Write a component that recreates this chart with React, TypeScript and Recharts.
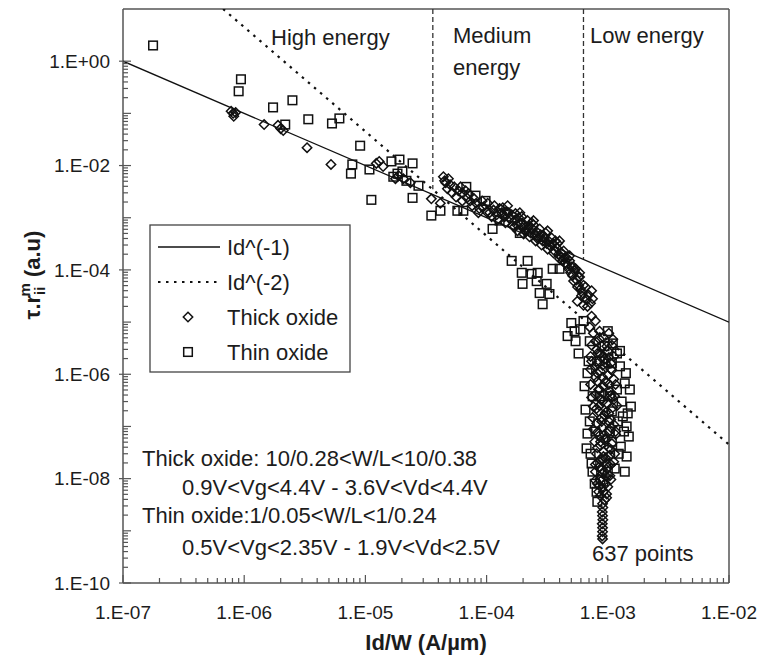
import { ScatterChart, Scatter, XAxis, YAxis, ReferenceLine } from "recharts";

const FONT = "'Liberation Sans', Arial, sans-serif";
const INK = "#1c1c1c";

// axis ticks
const xMajorTicks = [1e-7, 1e-6, 1e-5, 1e-4, 1e-3, 1e-2];
const yLabelTicks = [1e-10, 1e-8, 1e-6, 1e-4, 1e-2, 1];
const yDecades = [1e-10, 1e-9, 1e-8, 1e-7, 1e-6, 1e-5, 1e-4, 1e-3, 1e-2, 1e-1, 1];
const minorMantissas = [2, 3, 4, 5, 6, 7, 8, 9];

// fitted power laws
const idInv1: [number, number][] = [[1e-7, 1], [1e-2, 1e-5]];
const idInv2: [number, number][] = [[6.7e-7, 10], [1e-2, 4.5e-8]];

// energy region limits (Id/W) and where the dashed separator stops
const highMediumLimit: [number, number] = [3.6e-5, 3.5e-3];
const mediumLowLimit: [number, number] = [6.3e-4, 1.6e-4];

// thick oxide (diamonds)
const thickHigh: [number, number][] = [
  [8.1e-7, 0.1], [7.8e-7, 0.11], [8.2e-7, 0.088], [8.5e-7, 0.104],
  [1.46e-6, 0.061], [2.0e-6, 0.051], [1.9e-6, 0.059], [2.1e-6, 0.047],
  [3.3e-6, 0.022], [5.2e-6, 0.0105], [1.23e-5, 0.011], [1.3e-5, 0.012],
  [1.4e-5, 0.0096], [1.77e-5, 0.0056], [1.88e-5, 0.0064], [2.06e-5, 0.0056],
  [2.35e-5, 0.0047], [3.5e-5, 0.0023], [4.15e-5, 0.0019],
];
const thickMedium: [number, number][] = [
  [4.4e-5, 0.0061], [4.6e-5, 0.0047], [4.75e-5, 0.0036], [5.0e-5, 0.0043],
  [5.2e-5, 0.003], [5.6e-5, 0.0025], [6.1e-5, 0.0039], [6.3e-5, 0.003],
  [6.7e-5, 0.0033], [6.9e-5, 0.0024], [7.3e-5, 0.0021], [7.6e-5, 0.0017],
  [8.2e-5, 0.0019], [8.7e-5, 0.0015], [9.4e-5, 0.0016], [1.0e-4, 0.0013],
  [1.06e-4, 0.00125], [1.14e-4, 0.0014], [1.21e-4, 0.00114], [1.28e-4, 0.0015],
  [1.33e-4, 0.00125], [1.41e-4, 0.00105], [1.46e-4, 0.0013], [1.49e-4, 0.0017],
  [1.55e-4, 9.6e-4], [1.61e-4, 0.00114], [1.7e-4, 8.8e-4], [1.77e-4, 7.3e-4],
  [1.84e-4, 1.0e-3], [1.88e-4, 0.00125], [1.91e-4, 8.0e-4], [1.98e-4, 6.4e-4],
  [2.06e-4, 7.3e-4], [2.14e-4, 5.9e-4], [2.22e-4, 6.7e-4], [2.31e-4, 5.1e-4],
  [2.4e-4, 6.1e-4], [2.44e-4, 8.8e-4], [2.49e-4, 4.7e-4], [2.59e-4, 5.4e-4],
  [2.69e-4, 4.1e-4], [2.79e-4, 4.7e-4], [2.9e-4, 3.6e-4], [3.0e-4, 4.1e-4],
  [3.13e-4, 3.2e-4], [3.19e-4, 5.6e-4], [3.25e-4, 3.6e-4], [3.38e-4, 2.8e-4],
  [3.51e-4, 3.2e-4], [3.64e-4, 2.3e-4], [3.78e-4, 2.65e-4], [3.93e-4, 2.0e-4],
  [4.0e-4, 3.6e-4], [4.08e-4, 1.78e-4], [4.24e-4, 1.49e-4], [4.4e-4, 1.7e-4],
  [4.57e-4, 1.25e-4], [4.75e-4, 1.05e-4], [4.84e-4, 1.86e-4], [4.93e-4, 8.8e-5],
  [5.12e-4, 7.7e-5], [5.32e-4, 9.6e-5], [5.52e-4, 6.4e-5], [5.6e-4, 2.5e-5],
  [5.74e-4, 5.1e-5], [5.85e-4, 7.3e-5], [5.96e-4, 4.3e-5], [6.19e-4, 3.6e-5],
  [6.3e-4, 2.1e-5], [6.43e-4, 3.0e-5], [6.68e-4, 2.65e-5], [6.94e-4, 3.3e-5],
  [7.2e-4, 2.3e-5], [7.35e-4, 4.0e-5],
  [1.02e-4, 0.0019], [1.1e-4, 0.00105], [1.16e-4, 0.0017], [1.23e-4, 9.2e-4],
  [1.36e-4, 0.00156], [1.43e-4, 8.0e-4], [1.52e-4, 0.00125], [1.64e-4, 7.0e-4],
  [1.73e-4, 0.0012], [1.8e-4, 5.6e-4], [1.95e-4, 0.00105], [2.02e-4, 4.9e-4],
  [2.18e-4, 8.8e-4], [2.26e-4, 4.3e-4], [2.44e-4, 7.3e-4], [2.54e-4, 3.6e-4],
  [2.74e-4, 6.1e-4], [2.84e-4, 3.0e-4], [3.07e-4, 5.1e-4], [3.19e-4, 2.5e-4],
  [3.44e-4, 4.1e-4], [3.57e-4, 2.1e-4], [3.85e-4, 3.2e-4], [4.0e-4, 1.63e-4],
  [4.32e-4, 2.3e-4], [4.48e-4, 1.36e-4], [4.84e-4, 1.49e-4], [5.03e-4, 1.14e-4],
  [5.22e-4, 6.1e-5], [5.42e-4, 1.05e-4], [5.63e-4, 4.7e-5], [5.85e-4, 8.8e-5],
  [6.07e-4, 3.2e-5], [6.55e-4, 4.7e-5], [6.8e-4, 2.0e-5], [7.48e-4, 2.8e-5],
  [5.85e-5, 0.0033], [6.3e-5, 0.0021], [7.1e-5, 0.0029], [7.9e-5, 0.0023],
  [8.55e-5, 0.00125], [9.2e-5, 0.0021], [4.5e-5, 0.0051], [4.84e-5, 0.0056],
  [5.42e-5, 0.0039],
  [1.7e-4, 6.7e-4], [2.1e-4, 5.4e-4], [2.64e-4, 3.95e-4], [2.95e-4, 4.5e-4],
  [3.3e-4, 3.0e-4], [3.7e-4, 3.6e-4], [4.16e-4, 2.1e-4], [4.66e-4, 1.63e-4],
  [5.22e-4, 1.14e-4], [5.74e-4, 7.3e-5], [6.3e-4, 5.1e-5], [2.35e-4, 8.0e-4],
];
const thickLow: [number, number][] = [
  [7.35e-4, 1.3e-5], [7.9e-4, 1.05e-5], [7.1e-4, 8.0e-6], [8.55e-4, 6.7e-6],
  [9.2e-4, 5.1e-6], [7.9e-4, 4.3e-6], [8.9e-4, 3.45e-6], [9.8e-4, 3.45e-6],
  [1.0e-3, 2.8e-6], [8.2e-4, 2.5e-6], [9.4e-4, 1.95e-6], [7.35e-4, 1.78e-6],
  [1.06e-3, 1.63e-6], [7.8e-4, 1.42e-6], [8.7e-4, 1.14e-6], [1.0e-3, 9.6e-7],
  [1.12e-3, 8.0e-7], [8.2e-4, 7.3e-7], [9.2e-4, 5.9e-7], [8.4e-4, 5.1e-7],
  [1.04e-3, 4.7e-7], [7.9e-4, 4.1e-7], [1.14e-3, 3.8e-7], [8.9e-4, 3.3e-7],
  [9.8e-4, 2.8e-7], [7.6e-4, 2.4e-7], [1.1e-3, 2.3e-7], [8.4e-4, 1.95e-7],
  [9.4e-4, 1.63e-7], [1.06e-3, 1.36e-7], [1.02e-3, 1.25e-7], [8.1e-4, 1.14e-7],
  [9.05e-4, 9.6e-8], [1.02e-3, 8.0e-8], [1.16e-3, 8.0e-8], [8.55e-4, 6.7e-8],
  [9.6e-4, 5.6e-8], [7.8e-4, 5.1e-8], [1.08e-3, 4.7e-8], [8.2e-4, 3.9e-8],
  [9.2e-4, 3.3e-8], [1.04e-3, 2.8e-8], [8.7e-4, 2.3e-8], [9.05e-4, 2.3e-8],
  [1.12e-3, 2.1e-8], [9.8e-4, 1.95e-8], [8.4e-4, 1.63e-8], [9.4e-4, 1.36e-8],
  [7.9e-4, 1.36e-8], [1.04e-3, 1.14e-8], [8.55e-4, 9.6e-9], [9.6e-4, 8.0e-9],
  [8.2e-4, 8.0e-9], [8.9e-4, 6.7e-9], [9.2e-4, 5.6e-9], [8.7e-4, 4.7e-9],
  [9.4e-4, 3.9e-9], [9.05e-4, 3.3e-9], [9.1e-4, 2.8e-9], [9.0e-4, 2.3e-9],
  [9.05e-4, 1.95e-9], [9.1e-4, 1.63e-9], [9.0e-4, 1.36e-9], [9.05e-4, 1.14e-9],
  [9.05e-4, 9.6e-10], [9.0e-4, 8.0e-10], [9.05e-4, 7.0e-10],
  [7.6e-4, 6.1e-6], [1.02e-3, 6.1e-6], [8.55e-4, 4.7e-6], [1.1e-3, 4.7e-6],
  [7.35e-4, 3.6e-6], [1.08e-3, 3.6e-6], [8.08e-4, 3.0e-6], [7.21e-4, 2.2e-6],
  [9.05e-4, 2.2e-6], [1.12e-3, 2.2e-6], [8.2e-4, 1.63e-6], [9.6e-4, 1.63e-6],
  [7.21e-4, 1.25e-6], [1.06e-3, 1.25e-6], [7.9e-4, 8.8e-7], [9.05e-4, 8.8e-7],
  [7.21e-4, 6.4e-7], [1.02e-3, 6.4e-7], [1.16e-3, 6.4e-7], [9.2e-4, 4.3e-7],
  [7.35e-4, 3.6e-7], [1.08e-3, 3.6e-7], [8.55e-4, 2.5e-7], [1.19e-3, 2.5e-7],
  [9.6e-4, 1.86e-7], [7.48e-4, 1.49e-7], [8.9e-4, 1.49e-7], [1.12e-3, 1.09e-7],
  [7.6e-4, 8.8e-8], [9.4e-4, 7.0e-8], [1.16e-3, 7.0e-8], [8.71e-4, 5.1e-8],
  [1.02e-3, 3.9e-8], [8.08e-4, 3.0e-8], [1.14e-3, 3.0e-8], [9.6e-4, 2.5e-8],
  [7.9e-4, 1.86e-8], [1.06e-3, 1.86e-8], [8.9e-4, 1.49e-8], [9.77e-4, 1.09e-8],
  [7.9e-4, 9.2e-9], [1.0e-3, 7.0e-9], [8.4e-4, 5.6e-9], [9.77e-4, 4.3e-9],
  [8.55e-4, 2.5e-6], [1.02e-3, 2.1e-6], [9.05e-4, 1.49e-6], [1.08e-3, 1.19e-6],
  [8.2e-4, 1.05e-6], [9.6e-4, 7.3e-7], [8.55e-4, 5.1e-7], [1.06e-3, 3.95e-7],
  [9.05e-4, 3.0e-7], [8.08e-4, 2.2e-7], [1.02e-3, 1.78e-7], [8.9e-4, 1.25e-7],
  [1.06e-3, 9.6e-8], [8.2e-4, 7.7e-8], [9.6e-4, 6.1e-8], [8.71e-4, 4.3e-8],
  [1.06e-3, 3.6e-8], [9.2e-4, 2.65e-8], [8.2e-4, 2.0e-8], [1.0e-3, 1.63e-8],
  [9.05e-4, 1.25e-8], [1.06e-3, 9.6e-9], [8.55e-4, 7.3e-9], [9.77e-4, 5.1e-9],
];

// thin oxide (squares)
const thinHigh: [number, number][] = [
  [1.77e-7, 2.0], [9.4e-7, 0.45], [9.0e-7, 0.265], [1.73e-6, 0.13],
  [2.5e-6, 0.178], [2.18e-6, 0.061], [3.38e-6, 0.077], [5.3e-6, 0.064],
  [6.1e-6, 0.08], [9.05e-6, 0.024], [7.8e-6, 0.0105], [7.6e-6, 0.007],
  [1.12e-5, 0.0022], [1.08e-5, 0.0084], [1.64e-5, 0.012], [1.91e-5, 0.013],
  [2.45e-5, 0.011], [1.84e-5, 0.007], [2.02e-5, 0.0077], [2.18e-5, 0.0051],
  [2.74e-5, 0.0041], [2.45e-5, 0.0024], [3.5e-5, 0.0011], [1.7e-5, 0.0061],
];
const thinMedium: [number, number][] = [
  [4.16e-5, 0.00136], [5.74e-5, 0.00136], [6.43e-5, 0.00136], [6.8e-5, 0.0039],
  [8.1e-5, 0.00265], [9.8e-5, 0.0021], [1.12e-4, 6.1e-4], [1.41e-4, 0.0012],
  [1.28e-4, 8.8e-4], [1.88e-4, 5.1e-4], [1.61e-4, 1.49e-4], [2.18e-4, 1.49e-4],
  [1.95e-4, 8.8e-5], [1.98e-4, 5.4e-5], [2.64e-4, 8.8e-5], [2.59e-4, 6.1e-5],
  [3.13e-4, 5.4e-5], [3.3e-4, 3.45e-5], [2.74e-4, 3.6e-5], [2.9e-4, 2.2e-5],
  [3.51e-4, 1.05e-4], [4.0e-4, 1.05e-4], [2.35e-4, 8.4e-5],
];
const thinLow: [number, number][] = [
  [5.0e-4, 9.6e-6], [4.66e-4, 5.4e-6], [5.74e-4, 2.5e-6], [1.1e-3, 3.9e-6],
  [1.19e-3, 2.5e-6], [1.38e-3, 6.7e-7], [1.52e-3, 5.1e-7], [1.46e-3, 1.78e-7],
  [1.43e-3, 1.0e-7], [1.43e-3, 2.65e-8], [6.68e-4, 3.8e-8], [7.35e-4, 1.95e-8],
  [7.8e-4, 8.0e-9], [1.14e-3, 1.56e-8], [1.08e-3, 5.1e-8], [7.1e-4, 4.3e-6],
  [1.0e-3, 6.7e-6], [1.26e-3, 1.42e-6], [1.3e-3, 3.0e-7], [6.8e-4, 1.05e-6],
  [7.5e-4, 3.8e-7], [7.1e-4, 1.25e-7], [1.21e-3, 1.25e-7], [1.28e-3, 4.1e-8],
  [7.9e-4, 8.0e-8], [1.0e-3, 1.36e-8], [8.7e-4, 9.6e-9], [6.43e-4, 5.9e-7],
  [1.04e-3, 3.8e-7], [5.32e-4, 6.7e-6], [6.3e-4, 1.05e-5], [8.55e-4, 1.78e-6],
  [1.08e-3, 1.95e-7], [1.36e-3, 8.0e-8], [8.2e-4, 3.6e-9],
  [1.26e-3, 2.8e-6], [1.41e-3, 1.05e-6], [1.19e-3, 5.1e-7], [1.55e-3, 2.4e-7],
  [1.33e-3, 1.56e-7], [1.49e-3, 6.4e-8], [1.23e-3, 3.0e-8], [1.38e-3, 1.36e-8],
  [6.94e-4, 1.78e-6], [6.55e-4, 2.1e-7], [6.8e-4, 7.3e-8], [7.21e-4, 3.0e-8],
  [7.48e-4, 1.36e-8], [8.08e-4, 5.6e-9], [9.4e-4, 3.45e-6], [1.08e-3, 1.63e-6],
  [8.55e-4, 3.8e-7], [1.04e-3, 8.0e-8], [9.2e-4, 8.8e-9], [5.42e-4, 4.3e-6],
  [5.96e-4, 7.3e-6],
];

const toPoints = (pairs: [number, number][]) => pairs.map(([x, y]) => ({ x, y }));

const thickData = toPoints([...thickHigh, ...thickMedium, ...thickLow]);
const thinData = toPoints([...thinHigh, ...thinMedium, ...thinLow]);

const minorsOf = (decades: number[]) => decades.flatMap((d) => minorMantissas.map((m) => m * d));
const xTicks = [...xMajorTicks, ...minorsOf(xMajorTicks.slice(0, -1))];
const yTicks = [...yDecades, ...minorsOf(yDecades.slice(0, -1))];

const sci = (v: number) => {
  const e = Math.round(Math.log10(v));
  return `1.E${e < 0 ? "-" : "+"}${String(Math.abs(e)).padStart(2, "0")}`;
};
const isMajor = (list: number[], v: number) => list.some((t) => Math.abs(Math.log10(t) - Math.log10(v)) < 1e-6);

const XTick = (props: any) => {
  const { x, y, payload } = props;
  const major = isMajor(xMajorTicks, payload.value);
  return (
    <g>
      <line x1={x} x2={x} y1={y} y2={y - (major ? 8 : 5)} stroke="#555" strokeWidth={1.2} />
      {major && (
        <text x={x} y={y + 36} textAnchor="middle" fontFamily={FONT} fontSize={19} fill={INK}>
          {sci(payload.value)}
        </text>
      )}
    </g>
  );
};

const YTick = (props: any) => {
  const { x, y, payload } = props;
  const decade = isMajor(yDecades, payload.value);
  const labelled = isMajor(yLabelTicks, payload.value);
  return (
    <g>
      <line x1={x - (labelled ? 4 : 0)} x2={x + (decade ? 8 : 5)} y1={y} y2={y} stroke="#555" strokeWidth={1.2} />
      {labelled && (
        <text x={x - 13} y={y} dy="0.35em" textAnchor="end" fontFamily={FONT} fontSize={19} fill={INK}>
          {sci(payload.value)}
        </text>
      )}
    </g>
  );
};

const Diamond = (props: any) => {
  const { cx, cy } = props;
  if (cx == null || cy == null) return <g />;
  const r = 4.7;
  return (
    <path
      d={`M${cx},${cy - r}L${cx + r},${cy}L${cx},${cy + r}L${cx - r},${cy}Z`}
      fill="none"
      stroke="#111"
      strokeWidth={1.5}
    />
  );
};

const Square = (props: any) => {
  const { cx, cy } = props;
  if (cx == null || cy == null) return <g />;
  const h = 4.3;
  return <rect x={cx - h} y={cy - h} width={2 * h} height={2 * h} fill="none" stroke="#111" strokeWidth={1.5} />;
};

const NoDot = () => <g />;

const textStyle = { fontFamily: FONT, fontSize: 22, fill: INK };

const Overlay = () => (
  <svg width={762} height={656} style={{ position: "absolute", left: 0, top: 0, pointerEvents: "none" }}>
    {/* region names */}
    <text x={271} y={45} {...textStyle}>High energy</text>
    <text x={453} y={43} {...textStyle}>Medium</text>
    <text x={453} y={75} {...textStyle}>energy</text>
    <text x={590} y={43} {...textStyle}>Low energy</text>

    {/* legend */}
    <rect x={150} y={225} width={200} height={147} fill="#fff" stroke="#444" strokeWidth={1.3} />
    <line x1={158} x2={220} y1={247} y2={247} stroke="#111" strokeWidth={1.3} />
    <text x={227} y={255} {...textStyle}>Id^(-1)</text>
    <line x1={158} x2={220} y1={282} y2={282} stroke="#111" strokeWidth={2.2} strokeDasharray="2.5 5.5" />
    <text x={227} y={290} {...textStyle}>Id^(-2)</text>
    <Diamond cx={188} cy={317} />
    <text x={227} y={325} {...textStyle}>Thick oxide</text>
    <Square cx={188} cy={352} />
    <text x={227} y={360} {...textStyle}>Thin oxide</text>

    {/* conditions */}
    <text x={142} y={466} {...textStyle}>Thick oxide: 10/0.28&lt;W/L&lt;10/0.38</text>
    <text x={182} y={495} {...textStyle}>0.9V&lt;Vg&lt;4.4V - 3.6V&lt;Vd&lt;4.4V</text>
    <text x={142} y={523} {...textStyle}>Thin oxide:1/0.05&lt;W/L&lt;1/0.24</text>
    <text x={182} y={555} {...textStyle}>0.5V&lt;Vg&lt;2.35V - 1.9V&lt;Vd&lt;2.5V</text>
    <text x={592} y={561} {...textStyle}>637 points</text>

    {/* axis titles */}
    <text x={426} y={650} textAnchor="middle" fontFamily={FONT} fontSize={22} fontWeight="bold" fill={INK}>
      Id/W (A/µm)
    </text>
    <text
      transform="translate(40,275) rotate(-90)"
      textAnchor="middle"
      fontFamily={FONT}
      fontSize={22}
      fontWeight="bold"
      fill={INK}
    >
      τ.r
      <tspan fontSize={15} dy={5}>ii</tspan>
      <tspan fontSize={15} dx={-10} dy={-15}>m</tspan>
      <tspan dy={10}> (a.u)</tspan>
    </text>
  </svg>
);

export default function App() {
  return (
    <div style={{ position: "absolute", left: 0, top: 0, width: 762, height: 656, background: "#fff" }}>
      <ScatterChart width={762} height={656} margin={{ top: 9, right: 33, bottom: 0, left: 0 }}>
        <XAxis
          type="number"
          dataKey="x"
          scale="log"
          domain={[1e-7, 1e-2]}
          allowDataOverflow
          ticks={xTicks}
          interval={0}
          tick={<XTick />}
          tickLine={false}
          tickSize={0}
          tickMargin={0}
          height={73}
          axisLine={{ stroke: "#555", strokeWidth: 1.5 }}
        />
        <YAxis
          type="number"
          dataKey="y"
          scale="log"
          domain={[1e-10, 10]}
          allowDataOverflow
          ticks={yTicks}
          interval={0}
          tick={<YTick />}
          tickLine={false}
          tickSize={0}
          tickMargin={0}
          width={123}
          axisLine={{ stroke: "#555", strokeWidth: 1.5 }}
        />
        <ReferenceLine y={10} stroke="#555" strokeWidth={1.5} />
        <ReferenceLine x={1e-2} stroke="#555" strokeWidth={1.5} />
        <ReferenceLine
          segment={[{ x: highMediumLimit[0], y: 10 }, { x: highMediumLimit[0], y: highMediumLimit[1] }]}
          stroke="#333"
          strokeWidth={1.3}
          strokeDasharray="5 3"
        />
        <ReferenceLine
          segment={[{ x: mediumLowLimit[0], y: 10 }, { x: mediumLowLimit[0], y: mediumLowLimit[1] }]}
          stroke="#333"
          strokeWidth={1.3}
          strokeDasharray="5 3"
        />
        <Scatter
          name="Id^(-1)"
          data={toPoints(idInv1)}
          line={{ stroke: "#111", strokeWidth: 1.3 }}
          shape={<NoDot />}
          isAnimationActive={false}
        />
        <Scatter
          name="Id^(-2)"
          data={toPoints(idInv2)}
          line={{ stroke: "#111", strokeWidth: 2.2, strokeDasharray: "2.5 5.5" }}
          shape={<NoDot />}
          isAnimationActive={false}
        />
        <Scatter name="Thick oxide" data={thickData} shape={<Diamond />} isAnimationActive={false} />
        <Scatter name="Thin oxide" data={thinData} shape={<Square />} isAnimationActive={false} />
      </ScatterChart>
      <Overlay />
    </div>
  );
}
